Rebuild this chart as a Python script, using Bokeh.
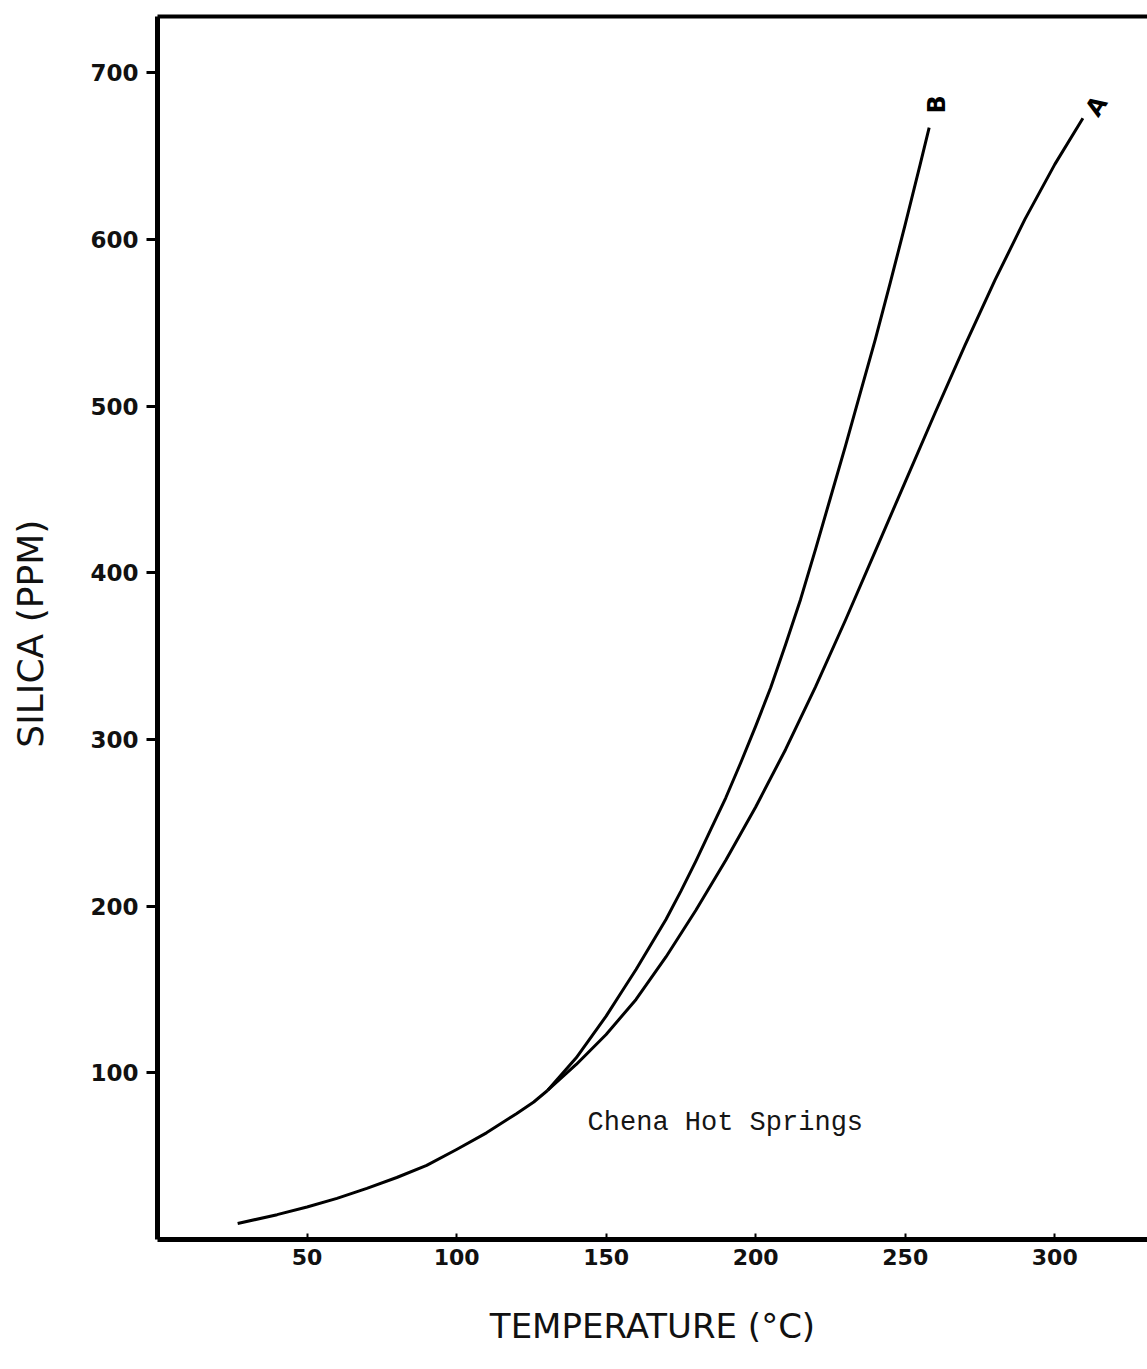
import numpy as np
from bokeh.plotting import figure
from bokeh.models import LinearAxis, FixedTicker, Range1d, Label
from bokeh.embed import file_html
from bokeh.resources import INLINE

# ---- data ----
# common lower branch (both curves coincide)
temp_common = [26.8, 40, 50, 60, 70, 80, 90, 100, 110, 120, 125.8, 130.4]
silica_common = [9.6, 14.9, 19.5, 24.7, 30.7, 37.2, 44.5, 54.0, 64.0, 75.5, 82.5, 89.4]

# curve B (steeper)
temp_b = [140, 150, 155, 160, 165, 170, 175, 180, 185, 190, 195, 200, 205, 210, 215,
          220, 225, 230, 235, 240, 245, 250, 255, 258]
silica_b = [109, 134, 148, 162, 177, 192, 209, 227, 246, 265, 286, 308, 331, 357, 384,
            414, 445, 476, 508, 540, 574, 609, 645, 667]

# curve A
temp_a = [140, 150, 160, 170, 180, 190, 200, 210, 220, 230, 240, 250, 260, 270, 280,
          290, 300, 309.4]
silica_a = [105, 123, 144, 169.5, 197.5, 227.5, 259.5, 294, 331.5, 371.5, 413, 454.5,
            496, 536.5, 575.5, 612, 645, 672.7]

x_ticks = [50, 100, 150, 200, 250, 300]
y_ticks = [100, 200, 300, 400, 500, 600, 700]

curve_labels = ["B", "A"]
label_temp = [260.5, 314.0]
label_silica = [681.0, 680.0]

site_name = "Chena Hot Springs"
site_temp, site_silica = 143.8, 70.0

# ---- figure ----
p = figure(width=1147, height=1369, output_backend="svg", toolbar_location=None,
           x_range=Range1d(0, 331), y_range=Range1d(0, 733.7),
           min_border_left=157, min_border_right=0, min_border_top=16, min_border_bottom=130,
           x_axis_label="TEMPERATURE (°C)", y_axis_label="SILICA  (PPM)")
p.background_fill_color = "white"
p.border_fill_color = "white"
p.outline_line_color = None
p.grid.visible = False

tick_font = "DejaVu Sans"

xa = p.xaxis[0]
xa.ticker = FixedTicker(ticks=x_ticks)
xa.axis_line_width = 5
xa.axis_line_color = "black"
xa.major_tick_in = 6
xa.major_tick_out = 0
xa.major_tick_line_width = 2
xa.minor_tick_line_color = None
xa.major_label_text_font = tick_font
xa.major_label_text_font_style = "bold"
xa.major_label_text_font_size = "22px"
xa.major_label_text_color = "#111111"
xa.major_label_standoff = 9
xa.axis_label_text_font = "DejaVu Sans"
xa.axis_label_text_font_style = "normal"
xa.axis_label_text_font_size = "34px"
xa.axis_label_standoff = 38
xa.axis_label_text_color = "#111111"

ya = p.yaxis[0]
ya.ticker = FixedTicker(ticks=y_ticks)
ya.axis_line_width = 5
ya.axis_line_color = "black"
ya.major_tick_in = 0
ya.major_tick_out = 11
ya.major_tick_line_width = 3
ya.minor_tick_line_color = None
ya.major_label_text_font = tick_font
ya.major_label_text_font_style = "bold"
ya.major_label_text_font_size = "23px"
ya.major_label_text_color = "#111111"
ya.major_label_standoff = 8
ya.axis_label_text_font = "DejaVu Sans"
ya.axis_label_text_font_style = "normal"
ya.axis_label_text_font_size = "36px"
ya.axis_label_standoff = 36
ya.axis_label_text_color = "#111111"

top = LinearAxis(ticker=FixedTicker(ticks=[]), axis_line_width=4, axis_line_color="black",
                 major_tick_line_color=None, minor_tick_line_color=None,
                 major_label_text_font_size="0px")
p.add_layout(top, "above")

# ---- curves ----
p.line(temp_common, silica_common, line_color="black", line_width=3, line_join="round")
p.line([temp_common[-1]] + temp_b, [silica_common[-1]] + silica_b, line_color="black",
       line_width=3, line_join="round")
p.line([temp_common[-1]] + temp_a, [silica_common[-1]] + silica_a, line_color="black",
       line_width=3, line_join="round")

# ---- labels ----
p.add_layout(Label(x=label_temp[0], y=label_silica[0], text=curve_labels[0], angle=np.pi / 2,
                   text_align="center", text_baseline="middle", text_font="DejaVu Sans",
                   text_font_size="24px", text_font_style="bold", text_color="black"))
p.add_layout(Label(x=label_temp[1], y=label_silica[1], text=curve_labels[1], angle=1.0,
                   text_align="center", text_baseline="middle", text_font="DejaVu Sans",
                   text_font_size="24px", text_font_style="bold", text_color="black"))
p.add_layout(Label(x=site_temp, y=site_silica, text=site_name, text_align="left",
                   text_baseline="middle", text_font="Liberation Mono",
                   text_font_size="27px", text_color="#151515"))

open("out.html", "w").write(file_html(p, INLINE))
